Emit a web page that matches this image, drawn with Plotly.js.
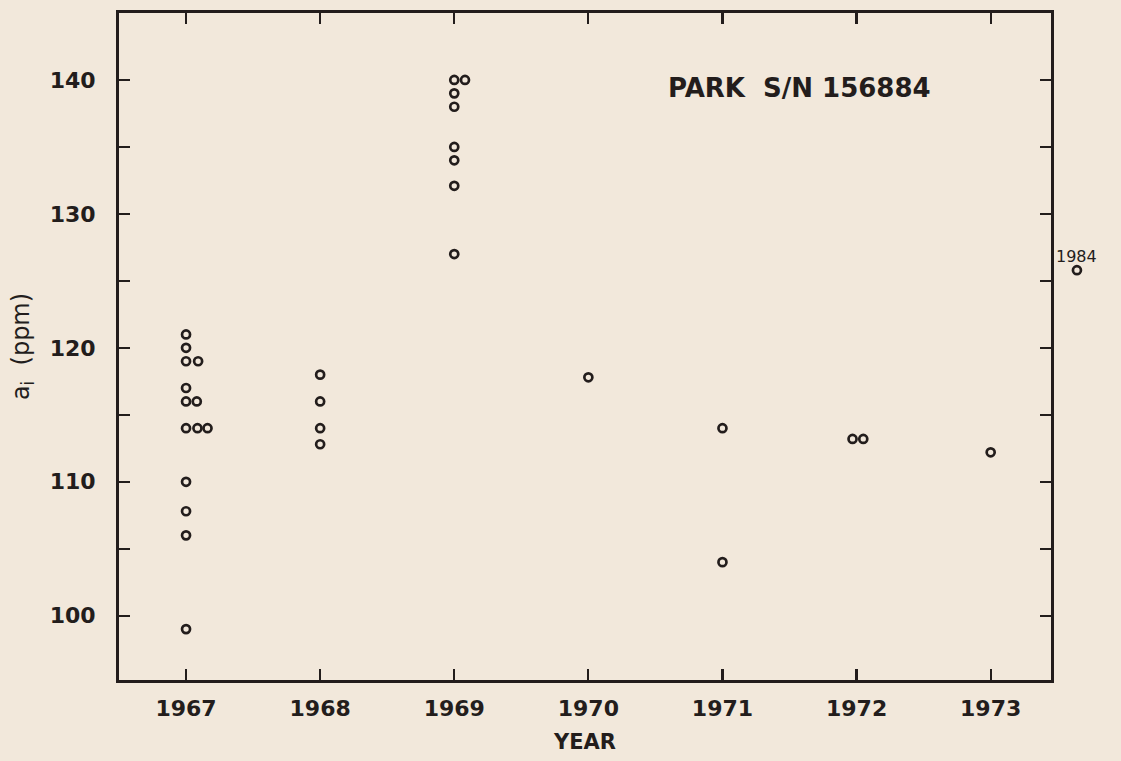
<!DOCTYPE html>
<html>
<head>
<meta charset="utf-8">
<script src="https://cdn.plot.ly/plotly-3.0.1.min.js"></script>
<style>
html,body{margin:0;padding:0;background:#f2e8db;}
#chart{width:1121px;height:761px;}
</style>
</head>
<body>
<div id="chart"></div>
<script>
// Measurements: x = year position (small offsets where points sit side by side), y = a_i (ppm)
const yearsX = [1967, 1967, 1967, 1967.09, 1967, 1967, 1967.08, 1967, 1967.085, 1967.16, 1967, 1967, 1967, 1967,
                1968, 1968, 1968, 1968,
                1969, 1969.08, 1969, 1969, 1969, 1969, 1969, 1969,
                1970,
                1971, 1971,
                1971.97, 1972.05,
                1973];
const valuesY = [121, 120, 119, 119, 117, 116, 116, 114, 114, 114, 110, 107.8, 106, 99,
                 118, 116, 114, 112.8,
                 140, 140, 139, 138, 135, 134, 132.1, 127,
                 117.8,
                 114, 104,
                 113.2, 113.2,
                 112.2];
// Separate 1984 measurement drawn to the right of the frame
const x1984 = [1973.65];
const y1984 = [125.8];
const label1984 = '1984';

const xTickVals = [1967, 1968, 1969, 1970, 1971, 1972, 1973];
const xTickText = ['1967', '1968', '1969', '1970', '1971', '1972', '1973'];
const yTickVals = [100, 110, 120, 130, 140];
const yTickText = ['100', '110', '120', '130', '140'];

const titleText = 'PARK&nbsp;&nbsp;S/N 156884';
const xTitle = 'YEAR';
const yTitle = 'a<sub>i</sub>&nbsp;&nbsp;(ppm)';

const ink = '#231d1c';
const bg = '#f2e8db';
const markerStyle = {symbol: 'circle-open', size: 8, color: ink, line: {color: ink, width: 2.7}};
const boldFont = 'DejaVu Sans, Liberation Sans, sans-serif';

const yRange = [95.2, 145];

const traces = [
  {x: yearsX, y: valuesY, xaxis: 'x', yaxis: 'y', type: 'scatter', mode: 'markers', marker: markerStyle, hoverinfo: 'x+y'},
  {x: x1984, y: y1984, xaxis: 'x2', yaxis: 'y2', type: 'scatter', mode: 'markers', marker: markerStyle, hoverinfo: 'x+y'}
];

const axisCommon = {
  showline: true, linecolor: ink, linewidth: 3, mirror: 'ticks',
  ticks: 'inside', ticklen: 11, tickwidth: 2.2, tickcolor: ink,
  showgrid: false, zeroline: false,
  tickfont: {family: boldFont, size: 22, color: ink, weight: 'bold'}
};

const layout = {
  width: 1121, height: 761,
  paper_bgcolor: bg, plot_bgcolor: bg,
  margin: {l: 119, r: 20, t: 13, b: 81, pad: 0},
  showlegend: false,
  xaxis: Object.assign({}, axisCommon, {
    domain: [0, 0.9491], anchor: 'y',
    range: [1966.5, 1973.45], tickvals: xTickVals, ticktext: xTickText,
    ticklabelstandoff: 7,
    title: {text: xTitle, standoff: 14, font: {family: boldFont, size: 21, color: ink, weight: 'bold'}}
  }),
  yaxis: Object.assign({}, axisCommon, {
    domain: [0, 1], anchor: 'x',
    range: yRange, tickvals: yTickVals, ticktext: yTickText,
    ticklabelstandoff: 16,
    minor: {dtick: 5, tick0: 95, ticks: 'inside', ticklen: 11, tickwidth: 2.2, tickcolor: ink, showgrid: false},
    title: {text: yTitle, standoff: 14, font: {family: 'DejaVu Sans, sans-serif', size: 24, color: ink}}
  }),
  xaxis2: {domain: [0.951, 1], anchor: 'y2', range: [1973.47, 1973.83], visible: false, showgrid: false, zeroline: false},
  yaxis2: {domain: [0, 1], anchor: 'x2', range: yRange, visible: false, showgrid: false, zeroline: false},
  annotations: [
    {text: titleText, xref: 'paper', yref: 'paper', x: 0.557, y: 0.8876, xanchor: 'left', yanchor: 'middle',
     showarrow: false, font: {family: boldFont, size: 26, color: ink, weight: 'bold'}},
    {text: label1984, xref: 'x2', yref: 'y2', x: x1984[0], y: y1984[0], yshift: 14, xanchor: 'center', yanchor: 'middle',
     showarrow: false, font: {family: 'DejaVu Sans, sans-serif', size: 16, color: ink}}
  ]
};

Plotly.newPlot('chart', traces, layout, {staticPlot: true, displayModeBar: false});
</script>
</body>
</html>
